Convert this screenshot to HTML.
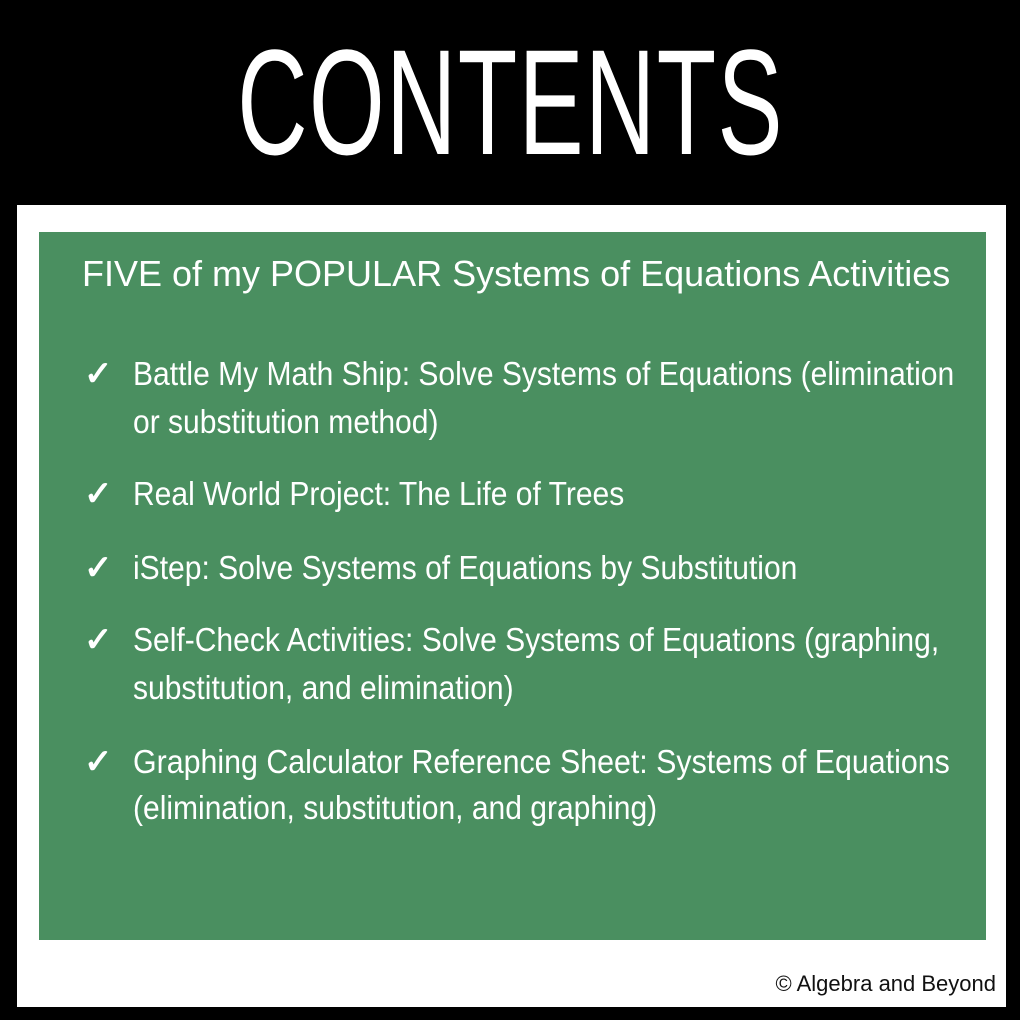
<!DOCTYPE html>
<html><head><meta charset="utf-8"><style>
body{margin:0;width:1020px;height:1020px;background:#000;position:relative;overflow:hidden;font-family:"Liberation Sans",sans-serif}
.w{position:absolute;left:17px;top:205px;width:989px;height:802px;background:#fff}
.g{position:absolute;left:39px;top:232px;width:947px;height:708px;background:#4a8f60}
.t{position:absolute;left:0;width:1020px;top:22px;text-align:center;color:#fff;font-size:150px;line-height:160px}
.t span{display:inline-block;transform:scaleX(0.65);letter-spacing:2px}
.l{position:absolute;color:#fff;font-size:33px;white-space:nowrap;transform-origin:0 0;line-height:40px}
.ck{position:absolute;color:#fff;font-size:34px;font-weight:bold;left:84px;line-height:40px}
.c{position:absolute;right:24px;top:971px;font-size:22px;color:#111}
</style></head><body>
<div class="t"><span>CONTENTS</span></div>
<div class="w"></div>
<div class="g"></div>
<div class="l" style="left:82px;top:254px;font-size:36px;transform:scaleX(1.0)">FIVE of my POPULAR Systems of Equations Activities</div>
<div class="ck" style="top:354px">✓</div>
<div class="l" style="left:133px;top:354px;transform:scaleX(0.91)">Battle My Math Ship: Solve Systems of Equations (elimination</div>
<div class="l" style="left:133px;top:402px;transform:scaleX(0.91)">or substitution method)</div>
<div class="ck" style="top:474px">✓</div>
<div class="l" style="left:133px;top:474px;transform:scaleX(0.91)">Real World Project: The Life of Trees</div>
<div class="ck" style="top:548px">✓</div>
<div class="l" style="left:133px;top:548px;transform:scaleX(0.91)">iStep: Solve Systems of Equations by Substitution</div>
<div class="ck" style="top:620px">✓</div>
<div class="l" style="left:133px;top:620px;transform:scaleX(0.91)">Self-Check Activities: Solve Systems of Equations (graphing,</div>
<div class="l" style="left:133px;top:668px;transform:scaleX(0.91)">substitution, and elimination)</div>
<div class="ck" style="top:742px">✓</div>
<div class="l" style="left:133px;top:742px;transform:scaleX(0.92)">Graphing Calculator Reference Sheet: Systems of Equations</div>
<div class="l" style="left:133px;top:788px;transform:scaleX(0.91)">(elimination, substitution, and graphing)</div>
<div class="c">© Algebra and Beyond</div>
</body></html>
